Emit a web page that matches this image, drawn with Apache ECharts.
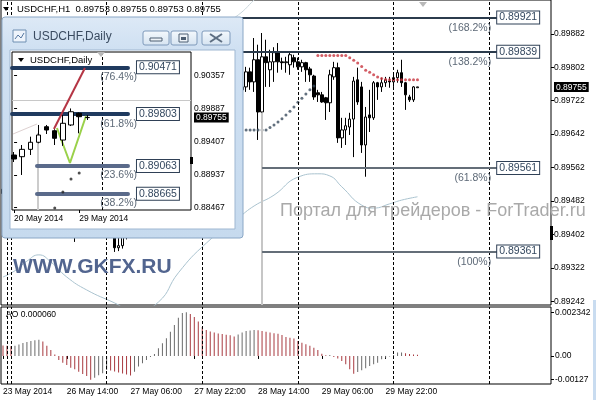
<!DOCTYPE html>
<html><head><meta charset="utf-8">
<script src="https://cdn.jsdelivr.net/npm/echarts@6/dist/echarts.min.js"></script>
<style>html,body{margin:0;padding:0;background:#fff}#c{width:596px;height:400px}</style>
</head><body><div id="c"></div>
<script>
const FONT = 'Liberation Sans, Arial, sans-serif';

// ---------- H1 chart data ----------
const h1Categories = ['23 May 23:00', '25 May 23:00'];
for (let i = 0; i < 136; i++) {
  const d = 26 + Math.floor(i / 24), h = i % 24;
  h1Categories.push(d + ' May ' + String(h).padStart(2, '0') + ':00');
}
const timeTickIdx = [0, 16, 32, 48, 64, 80, 96];
const timeTickText = ['23 May 2014', '26 May 14:00', '27 May 06:00', '27 May 22:00', '28 May 14:00', '29 May 06:00', '29 May 22:00'];
const daySeparatorIdx = [1, 2, 26, 50, 74, 98, 122];
const h1PriceTicks = [0.89242, 0.89322, 0.89402, 0.89482, 0.89562, 0.89642, 0.89722, 0.89802, 0.89882];
const h1Bid = 0.89755;

// [open, close, low, high]
const h1Candles = [
[0.89510,0.89500,0.89490,0.89525],[0.89500,0.89505,0.89495,0.89515],[0.89505,0.89520,0.89495,0.89530],[0.89520,0.89510,0.89500,0.89535],
[0.89510,0.89525,0.89505,0.89540],[0.89525,0.89530,0.89515,0.89545],[0.89530,0.89520,0.89510,0.89540],[0.89520,0.89535,0.89515,0.89550],
[0.89535,0.89525,0.89510,0.89545],[0.89525,0.89500,0.89490,0.89530],[0.89500,0.89470,0.89460,0.89510],[0.89470,0.89450,0.89430,0.89480],
[0.89450,0.89440,0.89420,0.89465],[0.89440,0.89425,0.89410,0.89455],[0.89425,0.89435,0.89405,0.89450],[0.89435,0.89420,0.89400,0.89445],
[0.89420,0.89410,0.89398,0.89440],[0.89410,0.89415,0.89396,0.89430],[0.89415,0.89400,0.89384,0.89425],[0.89400,0.89420,0.89395,0.89430],
[0.89420,0.89430,0.89405,0.89445],[0.89430,0.89425,0.89410,0.89450],[0.89425,0.89440,0.89412,0.89455],[0.89440,0.89450,0.89425,0.89465],
[0.89450,0.89445,0.89430,0.89470],[0.89445,0.89430,0.89415,0.89460],[0.89430,0.89420,0.89400,0.89445],[0.89420,0.89400,0.89396,0.89430],
[0.89400,0.89370,0.89360,0.89410],[0.89370,0.89375,0.89362,0.89395],[0.89375,0.89395,0.89368,0.89405],[0.89395,0.89410,0.89390,0.89425],
[0.89410,0.89405,0.89395,0.89430],[0.89405,0.89430,0.89398,0.89440],[0.89430,0.89450,0.89420,0.89465],[0.89450,0.89470,0.89440,0.89485],
[0.89470,0.89510,0.89460,0.89520],[0.89510,0.89560,0.89500,0.89570],[0.89560,0.89600,0.89545,0.89615],[0.89600,0.89640,0.89590,0.89660],
[0.89640,0.89680,0.89620,0.89700],[0.89680,0.89700,0.89660,0.89720],[0.89700,0.89730,0.89690,0.89750],[0.89730,0.89745,0.89715,0.89760],
[0.89745,0.89760,0.89730,0.89775],[0.89760,0.89750,0.89735,0.89780],[0.89750,0.89740,0.89725,0.89765],[0.89740,0.89730,0.89715,0.89755],
[0.89730,0.89745,0.89720,0.89760],[0.89745,0.89735,0.89720,0.89760],[0.89735,0.89720,0.89705,0.89745],[0.89720,0.89730,0.89710,0.89745],
[0.89730,0.89745,0.89720,0.89760],[0.89745,0.89740,0.89725,0.89765],[0.89740,0.89755,0.89730,0.89770],[0.89755,0.89745,0.89735,0.89770],
[0.89745,0.89760,0.89735,0.89775],[0.89760,0.89750,0.89740,0.89775],[0.89750,0.89745,0.89735,0.89765],[0.89745,0.89750,0.89738,0.89760],
[0.89748,0.89755,0.89741,0.89757],[0.89755,0.89791,0.89743,0.89803],[0.89791,0.89767,0.89748,0.89801],[0.89767,0.89820,0.89743,0.89872],
[0.89820,0.89695,0.89628,0.89856],[0.89695,0.89827,0.89693,0.89884],[0.89827,0.89813,0.89755,0.89868],[0.89796,0.89815,0.89755,0.89844],
[0.89815,0.89837,0.89767,0.89850],[0.89837,0.89815,0.89789,0.89860],[0.89815,0.89813,0.89796,0.89825],[0.89813,0.89815,0.89789,0.89827],
[0.89808,0.89832,0.89784,0.89839],[0.89825,0.89815,0.89801,0.89832],[0.89815,0.89803,0.89796,0.89825],[0.89803,0.89813,0.89791,0.89820],
[0.89813,0.89796,0.89767,0.89815],[0.89798,0.89784,0.89767,0.89803],[0.89781,0.89731,0.89724,0.89784],[0.89741,0.89736,0.89719,0.89748],
[0.89736,0.89719,0.89717,0.89743],[0.89729,0.89717,0.89676,0.89731],[0.89717,0.89784,0.89695,0.89796],[0.89779,0.89801,0.89772,0.89815],
[0.89801,0.89633,0.89621,0.89813],[0.89633,0.89652,0.89609,0.89681],[0.89652,0.89662,0.89616,0.89681],[0.89659,0.89678,0.89640,0.89693],
[0.89678,0.89769,0.89587,0.89779],[0.89772,0.89719,0.89712,0.89801],[0.89755,0.89616,0.89597,0.89767],[0.89616,0.89683,0.89540,0.89707],
[0.89688,0.89681,0.89647,0.89748],[0.89681,0.89765,0.89676,0.89769],[0.89765,0.89755,0.89724,0.89767],[0.89755,0.89765,0.89743,0.89777],
[0.89765,0.89772,0.89755,0.89779],[0.89769,0.89767,0.89753,0.89779],[0.89767,0.89777,0.89755,0.89784],[0.89777,0.89789,0.89765,0.89796],
[0.89789,0.89765,0.89755,0.89820],[0.89765,0.89736,0.89700,0.89767],[0.89731,0.89724,0.89719,0.89736],[0.89724,0.89755,0.89719,0.89757],
[0.89753,0.89755,0.89753,0.89755]
];

const sarBelow = [[61,0.89652],[62,0.89652],[63,0.89652],[64,0.89652],[65,0.89652],[66,0.89652],[67,0.89658],[68,0.89664],[69,0.89671],
[70,0.89679],[71,0.89688],[72,0.89697],[73,0.89707],[74,0.89718],[75,0.89728],[76,0.89738],[77,0.89748],[78,0.89757]];
const sarAbove = [[79,0.89830],[80,0.89830],[81,0.89830],[82,0.89830],[83,0.89830],[84,0.89830],[85,0.89830],[86,0.89830],
[87,0.89825],[88,0.89819],[89,0.89812],[90,0.89804],[91,0.89795],[92,0.89790],[93,0.89784],[94,0.89779],[95,0.89775],[96,0.89773],
[97,0.89772],[98,0.89772],[99,0.89772],[100,0.89772],[101,0.89772],[102,0.89772],[103,0.89772],[104,0.89772]];
const lowerBand = [[0,0.89300],[3,0.89315],[6,0.89338],[9,0.89353],[12,0.89336],[16,0.89300],[21,0.89269],[28,0.89238],[33,0.89216],
[39,0.89240],[44,0.89310],[51,0.89381],[59,0.89441],[63,0.89470],[68,0.89496],[74,0.89539],[79,0.89547],[82,0.89542],[85,0.89516],
[90,0.89472],[93,0.89465],[97,0.89475],[100,0.89484],[104,0.89492]];
const upperBand = [[55,0.89905],[59,0.89927],[63,0.89963],[67,0.90000]];

const fibLevelsH1 = [
  {pct:'(168.2%)', price:0.89921, dark:true},
  {pct:'(138.2%)', price:0.89839, dark:true},
  {pct:'(61.8%)',  price:0.89561, dark:false},
  {pct:'(100%)',   price:0.89361, dark:false}
];

// AO histogram
const aoValues = [
0.00056,0.00055,0.00052,0.00055,0.00062,0.00070,0.00075,0.00080,0.00084,0.00087,
0.00077,0.00054,0.00032,0.00008,-0.00021,-0.00036,-0.00048,-0.00063,-0.00071,-0.00084,
-0.00096,-0.00107,-0.00127,-0.00116,-0.00103,-0.00093,-0.00075,-0.00078,-0.00083,-0.00088,
-0.00094,-0.00099,-0.00104,-0.00084,-0.00057,-0.00039,-0.00021,-0.00005,0.00011,0.00041,
0.00068,0.00095,0.00130,0.00166,0.00205,0.00230,0.002342,0.00225,0.00209,0.00185,
0.00155,0.00139,0.00131,0.00126,0.00120,0.00117,0.00113,0.00111,0.00104,0.00115,
0.00126,0.00133,0.00136,0.00139,0.00137,0.00134,0.00130,0.00125,0.00121,0.00119,
0.00112,0.00102,0.00098,0.00093,0.00080,0.00071,0.00063,0.00054,0.00044,0.00032,
0.00012,0.00004,0.00005,-0.00006,-0.00013,-0.00027,-0.00044,-0.00071,-0.00095,-0.00086,
-0.00077,-0.00066,-0.00054,-0.00044,-0.00036,-0.00018,-0.00009,-0.00003,0.00005,0.00018,
0.00019,0.00014,0.00011,0.00008,0.00006
];
const aoTicks = [-0.00127, 0, 0.002342];
const aoTickText = ['-0.00127', '0.00', '0.002342'];

// ---------- Daily inset data ----------
const dailyLabelIdx = [0, 8];
const dailyLabelText = ['20 May 2014', '29 May 2014'];
// [dayIndex, open, close, low, high]
const dailyCandles = [
[0,0.89219,0.89162,0.89119,0.89262],[1,0.89195,0.89300,0.88934,0.89362],[2,0.89300,0.89401,0.89219,0.89481],
[3,0.89401,0.89505,0.89386,0.89648],[4,0.89623,0.89576,0.89519,0.89648],[5,0.89566,0.89458,0.89362,0.89586],
[6,0.89433,0.89672,0.89350,0.89790],[7,0.89648,0.89837,0.89633,0.89884],[8,0.89815,0.89766,0.89529,0.89826],
[9,0.89753,0.89755,0.89719,0.89790]
];
const dailySar = [[5,0.88463],[6,0.88691],[7,0.88877],[8,0.88962]];
const dailyPriceTicks = [0.88467, 0.88937, 0.89407, 0.89887, 0.90357];
const fibLevelsDaily = [
  {pct:'(76.4%)', price:0.90471, dark:true},
  {pct:'(61.8%)', price:0.89803, dark:true},
  {pct:'(23.6%)', price:0.89063, dark:false},
  {pct:'(38.2%)', price:0.88665, dark:false}
];
const dailyTrendRed = [[4.9,0.89590],[8.71,0.90461]];
const dailyTrendGreen = [[5.27,0.89605],[6.87,0.89105],[8.84,0.89776]];

// ---------- helpers ----------
function pickText(vals, texts, v) {
  let best = 0;
  vals.forEach((x, i) => { if (Math.abs(x - v) < Math.abs(vals[best] - v)) best = i; });
  return texts[best];
}
const priceFmt = (v) => Math.abs(v - h1Bid) < 1e-9 ? '{bid|' + v.toFixed(5) + '}' : v.toFixed(5);
const bidRich = {bid:{backgroundColor:'#000', color:'#fff', padding:[1,2,0,2], fontSize:8.5, fontFamily:FONT}};
const boxLabel = (txt) => ({show:true, position:'end', formatter:txt, distance:0, backgroundColor:'#fff',
  borderColor:'#2f4056', borderWidth:1, padding:[1,2,0,2], color:'#34485f', fontSize:10.5, fontFamily:FONT});
const pctLabel = (txt) => ({show:true, position:'insideEndBottom', formatter:txt, distance:[6,5],
  color:'#5d6977', fontSize:10.5, fontFamily:FONT});
const HIDDEN = {color:'rgba(0,0,0,0)', width:1, type:'solid'};

// main markLines
const mainMarks = [];
daySeparatorIdx.forEach(i => mainMarks.push({xAxis:i, lineStyle:{type:[3,2], color:'#000', width:1}, label:{show:false}}));
mainMarks.push([{coord:[65, 0.89693], lineStyle:{color:'#c6c6c6', width:2, type:'solid'}, label:{show:false}}, {coord:[65, 0.89233]}]);
mainMarks.push({yAxis:h1Bid, lineStyle:{color:'#c0c0c0', width:1, type:'solid'}, label:{show:false}});
fibLevelsH1.forEach(f => {
  const start = f.dark ? 30 : 65;
  const col = f.dark ? '#2b3b4c' : '#646e78';
  mainMarks.push([{coord:[start, f.price], lineStyle:{color:col, width:2, type:'solid'}, label:boxLabel(f.price.toFixed(5))}, {coord:[124, f.price]}]);
  mainMarks.push([{coord:[start, f.price], lineStyle:HIDDEN, label:pctLabel(f.pct)}, {coord:[124, f.price]}]);
});

const aoMarks = daySeparatorIdx.map(i => ({xAxis:i, lineStyle:{type:[3,2], color:'#000', width:1}, label:{show:false}}));

// daily markLines
const dailyMarks = [];
dailyMarks.push({xAxis:10.8, lineStyle:{type:[3,2], color:'#000', width:1}, label:{show:false}});
dailyMarks.push([{coord:[2.9, 0.89533], lineStyle:{color:'#cccccc', width:2, type:'solid'}, label:{show:false}}, {coord:[2.9, 0.88434]}]);
dailyMarks.push([{coord:[-0.13, 0.89519], lineStyle:{color:'#ddd0d0', width:1, type:'solid'}, label:{show:false}}, {coord:[2.82, 0.89662]}]);
dailyMarks.push({yAxis:h1Bid, lineStyle:{color:'#c8c8c8', width:1, type:'solid'}, label:{show:false}});
fibLevelsDaily.forEach(f => {
  const start = f.dark ? -0.25 : 2.82;
  const col = f.dark ? '#1f3a5f' : '#5a6a8a';
  dailyMarks.push([{coord:[start, f.price], lineStyle:{color:col, width:4, type:'solid', cap:'round'}, label:Object.assign(boxLabel(f.price.toFixed(5)), {distance:9})}, {coord:[14.0, f.price]}]);
  dailyMarks.push([{coord:[start, f.price], lineStyle:HIDDEN, label:Object.assign(pctLabel(f.pct), {distance:[-9,4]})}, {coord:[14.0, f.price]}]);
});

const aoData = aoValues.map((v, i) => ({value:v, itemStyle:{color: (i > 0 && v > aoValues[i-1]) ? '#6a6a6a' : '#a8393f'}}));

const axisFont = {fontSize:8.5, color:'#000', fontFamily:FONT};

const chart = echarts.init(document.getElementById('c'));
chart.setOption({
  animation:false,
  backgroundColor:'#ffffff',
  textStyle:{fontFamily:FONT},
  grid:[
    {left:1, top:0, width:550, height:305, show:true, borderColor:'#000', borderWidth:1, backgroundColor:'transparent'},
    {left:1, top:307, width:550, height:77, show:true, borderColor:'#000', borderWidth:1, backgroundColor:'transparent'},
    {left:12, top:52, width:179, height:158, show:true, borderColor:'#000', borderWidth:1, backgroundColor:'transparent', z:100}
  ],
  xAxis:[
    {type:'category', gridIndex:0, data:h1Categories, axisLine:{show:false}, axisTick:{show:false}, axisLabel:{show:false}, splitLine:{show:false}},
    {type:'category', gridIndex:1, data:h1Categories, axisLine:{show:false}, splitLine:{show:false},
      axisTick:{show:true, alignWithLabel:true, interval:(i)=>timeTickIdx.includes(i), length:3, lineStyle:{color:'#000'}},
      axisLabel:Object.assign({interval:(i)=>timeTickIdx.includes(i), formatter:(v,i)=>timeTickText[timeTickIdx.indexOf(i)], align:'left', margin:3}, axisFont)},
    {type:'value', gridIndex:2, min:-0.254, max:21.746, z:100, axisLine:{show:false}, splitLine:{show:false},
      axisTick:{show:true, customValues:dailyLabelIdx, length:3, lineStyle:{color:'#000'}},
      axisLabel:Object.assign({customValues:dailyLabelIdx, formatter:(v)=>pickText(dailyLabelIdx, dailyLabelText, v), align:'left', margin:4}, axisFont)}
  ],
  yAxis:[
    {type:'value', gridIndex:0, position:'right', min:0.89233, max:0.89963, splitLine:{show:false}, axisLine:{show:false},
      axisTick:{show:true, customValues:h1PriceTicks, length:3, lineStyle:{color:'#000'}},
      axisLabel:Object.assign({customValues:h1PriceTicks.concat([h1Bid]), formatter:priceFmt, margin:3, rich:bidRich}, axisFont)},
    {type:'value', gridIndex:1, position:'right', min:-0.0015, max:0.00262, splitLine:{show:false}, axisLine:{show:false},
      axisTick:{show:true, customValues:aoTicks, length:3, lineStyle:{color:'#000'}},
      axisLabel:Object.assign({customValues:aoTicks, formatter:(v)=>pickText(aoTicks, aoTickText, v), margin:4}, axisFont)},
    {type:'value', gridIndex:2, position:'right', min:0.88434, max:0.90690, z:100, splitLine:{show:false}, axisLine:{show:false},
      axisTick:{show:true, customValues:dailyPriceTicks, length:3, lineStyle:{color:'#000'}},
      axisLabel:Object.assign({customValues:dailyPriceTicks.concat([h1Bid]), formatter:priceFmt, margin:3, rich:bidRich}, axisFont)}
  ],
  series:[
    {type:'line', xAxisIndex:0, yAxisIndex:0, data:lowerBand, smooth:0.5, symbol:'none', lineStyle:{color:'#aac3cf', width:1}, z:1},
    {type:'line', xAxisIndex:0, yAxisIndex:0, data:upperBand, smooth:0.5, symbol:'none', lineStyle:{color:'#c9d6dc', width:1}, z:1},
    {type:'candlestick', xAxisIndex:0, yAxisIndex:0, data:h1Candles, barWidth:3,
      itemStyle:{color:'#ffffff', color0:'#000000', borderColor:'#000000', borderColor0:'#000000', borderColorDoji:'#000000', borderWidth:1},
      markLine:{silent:true, symbol:['none','none'], animation:false, data:mainMarks}},
    {type:'scatter', xAxisIndex:0, yAxisIndex:0, data:sarBelow, symbol:'circle', symbolSize:3, itemStyle:{color:'#3b4c5e'}},
    {type:'scatter', xAxisIndex:0, yAxisIndex:0, data:sarAbove, symbol:'circle', symbolSize:3, itemStyle:{color:'#c8353e'}},
    {type:'bar', xAxisIndex:1, yAxisIndex:1, data:aoData, barWidth:1,
      markLine:{silent:true, symbol:['none','none'], animation:false, data:aoMarks}},
    {type:'candlestick', xAxisIndex:2, yAxisIndex:2, data:dailyCandles, barWidth:5, z:110,
      itemStyle:{color:'#ffffff', color0:'#000000', borderColor:'#000000', borderColor0:'#000000', borderColorDoji:'#000000', borderWidth:1}},
    {type:'scatter', xAxisIndex:2, yAxisIndex:2, data:dailySar, symbol:'circle', symbolSize:3, itemStyle:{color:'#222'}, z:110},
    {type:'line', xAxisIndex:2, yAxisIndex:2, data:dailyTrendRed, symbol:'none', lineStyle:{color:'#b53645', width:2}, z:108},
    {type:'line', xAxisIndex:2, yAxisIndex:2, data:dailyTrendGreen, symbol:'none', lineStyle:{color:'#9ad14a', width:2}, z:108,
      markLine:{silent:true, symbol:['none','none'], animation:false, z:105, data:dailyMarks}}
  ],
  graphic:[
    // header
    {type:'polygon', z:120, shape:{points:[[3,7],[9,7],[6,11]]}, style:{fill:'#000'}},
    {type:'text', z:120, style:{text:'USDCHF,H1  0.89753 0.89755 0.89753 0.89755', x:17, y:9, font:'9.5px '+FONT, fill:'#000', textVerticalAlign:'middle'}},
    {type:'polygon', z:120, shape:{points:[[419,2],[427,2],[423,7]]}, style:{fill:'#b8b8b8'}},
    {type:'rect', z:120, shape:{x:550, y:226, width:3, height:14}, style:{fill:'#000'}},
    // watermarks
    {type:'text', z:130, style:{text:'Портал для трейдеров - ForTrader.ru', x:280, y:211, font:'18px '+FONT, fill:'#a9a9a9', textVerticalAlign:'middle'}},
    {type:'text', z:130, style:{text:'WWW.GKFX.RU', x:13, y:267, font:'bold 21px '+FONT, fill:'#52658f', textVerticalAlign:'middle'}},
    {type:'text', z:130, style:{text:'AO 0.000060', x:6, y:315, font:'8.5px '+FONT, fill:'#000', textVerticalAlign:'middle'}},
    // right window edge
    {type:'rect', z:120, shape:{x:593, y:300, width:3, height:100}, style:{fill:'#c9dcf0'}},
    // inset window chrome
    {type:'rect', z:50, shape:{x:2, y:17, width:241, height:221, r:3},
      style:{fill:new echarts.graphic.LinearGradient(0,0,0,1,[{offset:0,color:'#dde9f6'},{offset:0.15,color:'#cfe0f2'},{offset:1,color:'#c6daee'}]), stroke:'#8aa7c6', lineWidth:1}},
    {type:'rect', z:51, shape:{x:10, y:50, width:225, height:179}, style:{fill:'#ffffff', stroke:'#9fb7d1', lineWidth:1}},
    {type:'rect', z:52, shape:{x:13, y:30, width:13, height:12}, style:{fill:'#eef4fb', stroke:'#6f8fb2', lineWidth:1}},
    {type:'polyline', z:53, shape:{points:[[15,39],[18,35],[21,38],[24,33]]}, style:{stroke:'#5577a0', lineWidth:1, fill:null}},
    {type:'text', z:52, style:{text:'USDCHF,Daily', x:33, y:37, font:'12px '+FONT, fill:'#3a4b60', textVerticalAlign:'middle'}},
    {type:'rect', z:52, shape:{x:143, y:31, width:26, height:14, r:2},
      style:{fill:new echarts.graphic.LinearGradient(0,0,0,1,[{offset:0,color:'#f5f9fd'},{offset:1,color:'#d5e3f1'}]), stroke:'#7f9abb', lineWidth:1}},
    {type:'rect', z:53, shape:{x:150, y:38, width:12, height:3}, style:{fill:'#eef3f8', stroke:'#4d5e72', lineWidth:1}},
    {type:'rect', z:52, shape:{x:171, y:31, width:26, height:14, r:2},
      style:{fill:new echarts.graphic.LinearGradient(0,0,0,1,[{offset:0,color:'#f5f9fd'},{offset:1,color:'#d5e3f1'}]), stroke:'#7f9abb', lineWidth:1}},
    {type:'rect', z:53, shape:{x:179, y:34, width:9, height:8}, style:{fill:'#eef3f8', stroke:'#4d5e72', lineWidth:1}},
    {type:'rect', z:53, shape:{x:181, y:37, width:5, height:3}, style:{fill:'#4d5e72'}},
    {type:'rect', z:52, shape:{x:202, y:31, width:28, height:14, r:2},
      style:{fill:new echarts.graphic.LinearGradient(0,0,0,1,[{offset:0,color:'#f5f9fd'},{offset:1,color:'#d5e3f1'}]), stroke:'#7f9abb', lineWidth:1}},
    {type:'line', z:53, shape:{x1:210, y1:34, x2:222, y2:42}, style:{stroke:'#5d6e82', lineWidth:2}},
    {type:'line', z:53, shape:{x1:222, y1:34, x2:210, y2:42}, style:{stroke:'#5d6e82', lineWidth:2}},
    // inset chart header & markers
    {type:'polygon', z:120, shape:{points:[[18,58],[24,58],[21,62]]}, style:{fill:'#000'}},
    {type:'text', z:120, style:{text:'USDCHF,Daily', x:30, y:60, font:'9.5px '+FONT, fill:'#000', textVerticalAlign:'middle'}},
    {type:'polygon', z:120, shape:{points:[[97,52],[105,52],[101,57]]}, style:{fill:'#b8b8b8'}},
    {type:'rect', z:120, shape:{x:190, y:157, width:3, height:7}, style:{fill:'#000'}}
  ]
});
</script></body></html>
